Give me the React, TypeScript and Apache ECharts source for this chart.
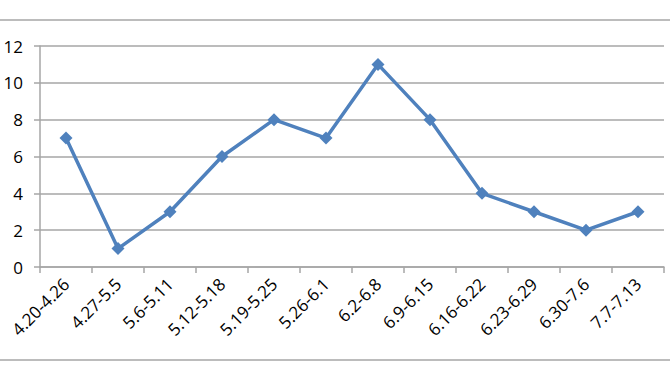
import React, { useEffect, useRef } from "react";
import * as echarts from "echarts";

const categories = ["4.20-4.26", "4.27-5.5", "5.6-5.11", "5.12-5.18", "5.19-5.25", "5.26-6.1", "6.2-6.8", "6.9-6.15", "6.16-6.22", "6.23-6.29", "6.30-7.6", "7.7-7.13"];
const values = [7, 1, 3, 6, 8, 7, 11, 8, 4, 3, 2, 3];

export default function App() {
  const ref = useRef<HTMLDivElement>(null);
  useEffect(() => {
    if (!ref.current) return;
    const chart = echarts.init(ref.current, null, { renderer: "svg" });
    const gray = "#a6a6a6";
    chart.setOption({
      animation: false,
      backgroundColor: "#fff",
      grid: { left: 40, right: 6, top: 46, bottom: 113, containLabel: false },
      xAxis: {
        type: "category",
        data: categories,
        boundaryGap: true,
        axisLine: { lineStyle: { color: gray, width: 1.5 } },
        axisTick: { show: true, length: 6, lineStyle: { color: gray, width: 1.5 } },
        axisLabel: { rotate: 45, color: "#000", fontSize: 17, fontFamily: "Open Sans", margin: 14, interval: 0 },
      },
      yAxis: {
        type: "value",
        min: 0,
        max: 12,
        interval: 2,
        axisLine: { show: true, lineStyle: { color: gray, width: 1.5 } },
        axisTick: { show: true, length: 6, lineStyle: { color: gray, width: 1.5 } },
        splitLine: { lineStyle: { color: gray, width: 1.5 } },
        axisLabel: { color: "#000", fontSize: 17, fontFamily: "Open Sans", margin: 17 },
      },
      graphic: [
        { type: "line", shape: { x1: 0, y1: 20, x2: 670, y2: 20 }, style: { stroke: gray, lineWidth: 1.5 } },
        { type: "line", shape: { x1: 0, y1: 360, x2: 670, y2: 360 }, style: { stroke: gray, lineWidth: 1.5 } },
      ],
      series: [
        {
          type: "line",
          data: values,
          symbol: "diamond",
          symbolSize: 13,
          lineStyle: { color: "#4f81bd", width: 3.5 },
          itemStyle: { color: "#4f81bd" },
        },
      ],
    });
    return () => chart.dispose();
  }, []);
  return <div ref={ref} style={{ width: 670, height: 380, position: "absolute", left: 0, top: 0 }} />;
}
